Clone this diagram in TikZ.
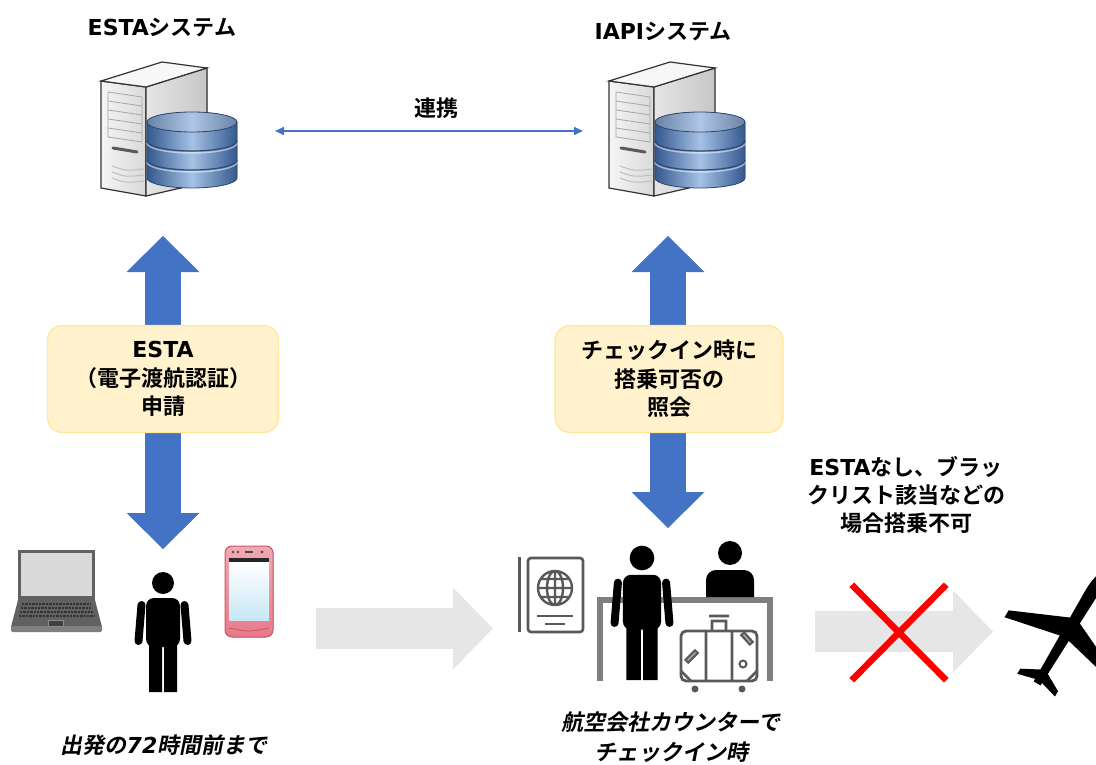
\documentclass[tikz,border=0pt]{standalone}
\usepackage{fontspec}
\setmainfont{Noto Sans CJK JP}[BoldFont={Noto Sans CJK JP Bold}]
\newfontfamily\jpslant{Noto Sans CJK JP Bold}[FakeSlant=0.2]
\newfontfamily\lat{DejaVu Sans}
\usetikzlibrary{arrows.meta, shapes.misc}
\definecolor{arrowblue}{HTML}{4472C4}
\definecolor{boxfill}{HTML}{FFF2CC}
\definecolor{boxline}{HTML}{FFE699}
\definecolor{flowgray}{HTML}{E6E6E6}
\definecolor{icongray}{HTML}{7F7F7F}
\definecolor{icondark}{HTML}{595959}
\definecolor{dbdark}{HTML}{34588E}
\definecolor{dblight}{HTML}{A6C1E5}
\definecolor{dbtop}{HTML}{8DAEDB}
\definecolor{dbline}{HTML}{2C4A78}
\definecolor{phonepink}{HTML}{E87A8A}
\definecolor{phoneedge}{HTML}{C9566A}
\definecolor{screenblue}{HTML}{C9E6F6}

\begin{document}
\begin{tikzpicture}[x=1pt, y=-1pt,
  systitle/.style={font=\bfseries\fontsize{22}{26}\selectfont},
  infobox/.style={draw=boxline, line width=1.2pt, fill=boxfill, rounded corners=15pt,
    align=center, font=\bfseries\fontsize{22}{28.5}\selectfont},
  notetext/.style={align=center, font=\bfseries\fontsize{22}{28}\selectfont},
  captiontext/.style={align=center, font=\jpslant\fontsize{22}{30}\selectfont},
  bigarrow/.style={draw=arrowblue, line width=36pt,
    arrows={Triangle[width=73pt,length=36pt,line width=0pt]-Triangle[width=73pt,length=36pt,line width=0pt]}},
  flow/.style={draw=flowgray, line width=41pt, arrows={-Triangle[width=82pt,length=40pt,line width=0pt]}},
  link/.style={draw=arrowblue, line width=1.6pt,
    arrows={Triangle[width=8pt,length=9pt]-Triangle[width=8pt,length=9pt]}},
  server/.pic={
    \filldraw[draw=black!80, line width=1.2pt, left color=black!4, right color=black!15]
      (1,19) -- (46,25) -- (46,134) -- (1,126) -- cycle;
    \filldraw[draw=black!80, line width=1.2pt, left color=black!10, right color=black!22]
      (46,25) -- (107,6) -- (107,120) -- (46,134) -- cycle;
    \filldraw[draw=black!80, line width=1.2pt, fill=black!3]
      (1,19) -- (62,0) -- (107,6) -- (46,25) -- cycle;
    \draw[black!35, line width=0.8pt] (8,30) -- (42,35) -- (42,80) -- (8,75) -- cycle;
    \foreach \v in {39,48,57,66} \draw[black!35, line width=0.8pt] (8,\v) -- (42,\v+5);
    \draw[black!65, line width=3pt, line cap=round] (13,86) -- (37,90);
    \foreach \v in {104,110,116} \draw[black!25, line width=1pt] (12,\v) .. controls (26,\v+5) .. (44,\v+3);
    %database
    \filldraw[draw=dbline, line width=0.8pt, left color=dbdark, right color=dbdark, middle color=dblight]
      (47,60) -- (47,116) arc[start angle=180, end angle=0, x radius=45, y radius=10] -- (137,60) -- cycle;
    \foreach \v in {79,98} {
      \draw[white, opacity=0.5, line width=1.5pt] (47,\v+2) arc[start angle=180, end angle=0, x radius=45, y radius=10];
      \draw[dbline, line width=1.2pt] (47,\v) arc[start angle=180, end angle=0, x radius=45, y radius=10];
    }
    \filldraw[draw=dbline, line width=0.8pt, left color=dbtop!75!black, right color=dbtop!75!black,
      middle color=dbtop!70!white] (92,60) ellipse[x radius=45, y radius=10];
  },
  person/.pic={
    \fill (0,0) circle[radius=11];
    \fill[rounded corners=8pt] (-17,64) -- (-17,15) -- (17,15) -- (17,64) -- cycle;
    \draw[line width=8pt, line cap=round] (-21.5,22) -- (-24.5,58) (21.5,22) -- (24.5,58);
    \fill (-14,58) rectangle (-1,109) (1,58) rectangle (14,109);
  },
  plane/.pic={
    \fill (-60,-4) -- (45,-6.5) .. controls (62,-6.5) and (70,-2.5) .. (70,0)
      .. controls (70,2.5) and (62,6.5) .. (45,6.5) -- (-60,4) -- cycle;
    \fill (16,0) -- (-12,62) -- (-20,62) -- (-6,0) -- cycle;
    \fill (16,0) -- (-12,-62) -- (-20,-62) -- (-6,0) -- cycle;
    \fill (-44,0) -- (-56,22) -- (-62,22) -- (-56,0) -- cycle;
    \fill (-44,0) -- (-56,-22) -- (-62,-22) -- (-56,0) -- cycle;
  }]
  \useasboundingbox (0,0) rectangle (1096,765);
  \clip (0,0) rectangle (1096,765);

  %servers
  \node[systitle] (estaTitle) at (162,28) {{\lat ESTA}システム};
  \node[systitle] (iapiTitle) at (663,32) {{\lat IAPI}システム};
  \pic (estaServer) at (100,62) {server};
  \pic (iapiServer) at (608,62) {server};

  \coordinate (estaLink) at (275,131);
  \coordinate (iapiLink) at (583,131);
  \draw[link] (estaLink) -- (iapiLink);
  \node[systitle] (linkText) at (436,108) {連携};

  %application and inquiry
  \coordinate (estaUp) at (163,236);
  \coordinate (estaDown) at (163,549);
  \coordinate (iapiUp) at (668,236);
  \coordinate (iapiDown) at (668,528);
  \draw[bigarrow] (estaUp) -- (estaDown);
  \draw[bigarrow] (iapiUp) -- (iapiDown);

  \node[infobox, minimum width=231pt, minimum height=107pt] (estaBox) at (163,379)
    {{\lat ESTA}\\（電子渡航認証）\\申請};
  \node[infobox, minimum width=228pt, minimum height=107pt] (iapiBox) at (669,379)
    {チェックイン時に\\搭乗可否の\\照会};

  \node[notetext] (ngNote) at (906,495) {{\lat ESTA}なし、ブラッ\\クリスト該当などの\\場合搭乗不可};

  %laptop
  \fill[black!62] (18,550) rectangle (95,600);
  \fill[black!15] (21,553) rectangle (92,596);
  \fill[black!62] (18,600) -- (95,600) -- (102,627) -- (11,627) -- cycle;
  \fill[icongray, rounded corners=1.5pt] (11,626) rectangle (102,632);
  \foreach \yy/\xa/\xb in {604/22/91, 608/21/92, 612/20/93, 616/19/94}
    \draw[black!80, line width=2.6pt, dash pattern=on 2.4pt off 1pt] (\xa,\yy) -- (\xb,\yy);
  \filldraw[fill=black!75, draw=black!45, line width=0.6pt] (48,620) rectangle (63,626);

  %traveller
  \pic (traveller) at (163,583) {person};

  %phone
  \filldraw[draw=phoneedge, line width=1pt, top color=phonepink!65!white, bottom color=phonepink,
    rounded corners=7pt] (225,546) rectangle (273,637);
  \fill[black!85] (229,558) rectangle (269,562);
  \fill[top color=white, bottom color=screenblue] (229,562) rectangle (269,620);
  \fill[black!70] (233,552) circle[radius=1.3] (238,552) circle[radius=1.3] (262,552) circle[radius=1.6];
  \draw[black!70, line width=1.6pt] (245,552) -- (253,552);
  \draw[phoneedge, line width=0.8pt] (229,628) .. controls (249,632) .. (269,628);

  \coordinate (flowStart) at (316,628.5);
  \coordinate (flowCounter) at (493,628.5);
  \draw[flow] (flowStart) -- (flowCounter);

  %passport
  \draw[icondark, line width=3pt] (519.5,557) -- (519.5,632);
  \draw[icondark, line width=2.6pt, rounded corners=3pt] (528,558) rectangle (583,632);
  \draw[icondark, line width=2.4pt] (555,588) circle[radius=17]
    (555,588) ellipse[x radius=8, y radius=17] (555,571) -- (555,605) (538,588) -- (572,588)
    (541,579) -- (569,579) (541,597) -- (569,597);
  \draw[icondark, line width=2.4pt] (537,616) -- (573,616) (545,624) -- (565,624);

  %counter
  \draw[icongray, line width=6.5pt] (600,681) -- (600,600) -- (770,600) -- (770,681);
  \fill (730,553) circle[radius=12];
  \fill (706,597) [rounded corners=10pt] -- (706,570) -- (754,570) [sharp corners] -- (754,597) -- cycle;
  \pic[scale=1.12] (passenger) at (642,558) {person};

  %suitcase
  \draw[icondark, line width=2.8pt, rounded corners=5pt] (681,631) rectangle (757,681);
  \draw[icondark, line width=2.8pt] (706,631) -- (706,681) (732,631) -- (732,681)
    (712,631) -- (712,621) -- (726,621) -- (726,631) (709,616) -- (729,616)
    (681,671) -- (691,681) (757,671) -- (747,681);
  \draw[icondark, line width=6pt] (686,662) -- (697,651) (742,633) -- (752,644);
  \draw[black!30, line width=1.4pt] (687.5,660.5) -- (695.5,652.5) (743.5,634.5) -- (750.5,642.5);
  \draw[icondark, line width=2pt] (743,664) circle[radius=3.5];
  \fill[icondark] (695,689) circle[radius=3.5] (742,689) circle[radius=3.5];

  \coordinate (flowBoard) at (815,631.5);
  \coordinate (flowPlane) at (993,631.5);
  \draw[flow] (flowBoard) -- (flowPlane);
  \node[cross out, draw=red, line width=6.5pt, minimum width=88pt, minimum height=89pt] (noBoarding) at (899,632.5) {};

  \pic[rotate=59] (planeIcon) at (1068,632) {plane};

  %captions
  \node[captiontext] (timeNote) at (164,745) {出発の{\lat\bfseries\itshape 72}時間前まで};
  \node[captiontext] (counterNote) at (671,737) {航空会社カウンターで\\チェックイン時};
\end{tikzpicture}
\end{document}
